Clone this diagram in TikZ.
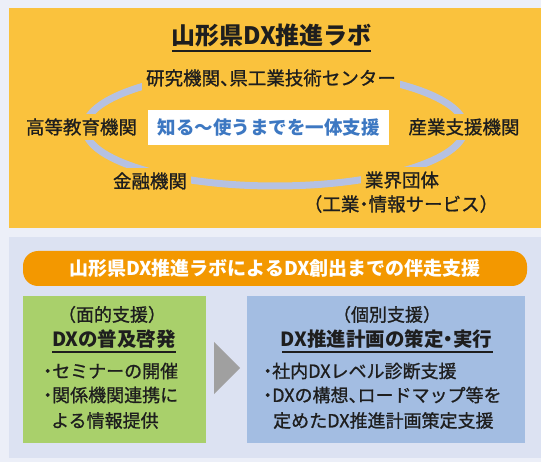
\documentclass[tikz,border=0pt]{standalone}
\usepackage{fontspec}
\setmainfont{Noto Sans CJK JP}[UprightFeatures={FakeBold=1.0}]
\newcommand{\hw}[1]{{\addfontfeature{RawFeature=+halt}#1}}
\definecolor{outerbg}{HTML}{ECEFF8}
\definecolor{ybg}{HTML}{FAC23D}
\definecolor{lbg}{HTML}{DCE2F2}
\definecolor{ring}{HTML}{B5C1E2}
\definecolor{coreblue}{HTML}{3D78C2}
\definecolor{barorange}{HTML}{F39800}
\definecolor{gbox}{HTML}{A9D06B}
\definecolor{bbox}{HTML}{A3BDE2}
\definecolor{arrgray}{HTML}{A0A0A0}
\definecolor{ink}{HTML}{1E1E1E}
\begin{document}
\begin{tikzpicture}[x=1pt,y=-1pt,
  every node/.style={text=ink, inner sep=0pt},
  lab/.style={fill=ybg, inner sep=4pt, font=\fontsize{18.5}{22}\selectfont},
  body/.style={anchor=west, font=\fontsize{18}{22}\selectfont},
  sub/.style={font=\fontsize{18}{22}\selectfont},
  head/.style={font=\fontsize{19.5}{23}\selectfont\bfseries},
  uline/.style={draw=ink, line width=1.6pt}]
\useasboundingbox (0,0) rectangle (541,462);
\fill[outerbg] (0,0) rectangle (541,462);
% top panel
\fill[ybg] (9,8) rectangle (541,228);
\node[font=\fontsize{24}{28}\selectfont\bfseries] (title) at (271.5,35) {山形県DX推進ラボ};
\coordinate (tA) at (172,51);
\coordinate (tB) at (371,51);
\draw[line width=2pt, draw=ink] (tA) -- (tB);
\draw[ring, line width=7pt] (275,128) ellipse [x radius=190, y radius=58];
\node[lab] (research) at (271,78) {研究機関\hw{、}県工業技術センター};
\node[lab] (higher) at (81.5,127) {高等教育機関};
\node[lab] (industry) at (464,127) {産業支援機関};
\node[lab] (finance) at (150,181) {金融機関};
\node[lab] (groups) at (402,180) {業界団体};
\node[font=\fontsize{18.5}{22}\selectfont] (groupsub) at (401,204) {（工業\hw{・}情報サービス）};
\node[fill=white, minimum width=241, minimum height=35, text=coreblue,
  font=\fontsize{18.5}{22}\selectfont\bfseries] (core) at (268.5,127.5) {知る〜使うまでを一体支援};
% lower panel
\fill[lbg] (9,237) rectangle (541,458);
\node[fill=barorange, rounded corners=15pt, minimum width=504, minimum height=35,
  text=white, font=\fontsize{19}{23}\selectfont\bfseries] (bar) at (275,268.5)
  {山形県DX推進ラボによるDX創出までの伴走支援};
\node[fill=gbox, minimum width=183, minimum height=147, anchor=north west] (green) at (23,296) {};
\node[fill=bbox, minimum width=278, minimum height=147, anchor=north west] (blue) at (247,296) {};
\fill[arrgray] (214,342) -- (240,368) -- (214,394) -- cycle;
% green content
\node[sub] (gsub) at (112,314.5) {（面的支援）};
\node[head] (ghead) at (114,339) {DXの普及啓発};
\coordinate (gA) at (52,352);
\coordinate (gB) at (176,352);
\draw[uline] (gA) -- (gB);
\node[body] (g1) at (43,371) {\hw{・}セミナーの開催};
\node[body] (g2) at (43,395) {\hw{・}関係機関連携に};
\node[body] (g3) at (51,420.5) {よる情報提供};
% blue content
\node[sub] (bsub) at (387,314.5) {（個別支援）};
\node[head] (bhead) at (386.5,339) {DX推進計画の策定\hw{・}実行};
\coordinate (bA) at (282,352);
\coordinate (bB) at (493,352);
\draw[uline] (bA) -- (bB);
\node[body] (b1) at (263,371) {\hw{・}社内DXレベル診断支援};
\node[body] (b2) at (263,395) {\hw{・}DXの構想\hw{、}ロードマップ等を};
\node[body] (b3) at (273,420.5) {定めたDX推進計画策定支援};
\end{tikzpicture}
\end{document}
